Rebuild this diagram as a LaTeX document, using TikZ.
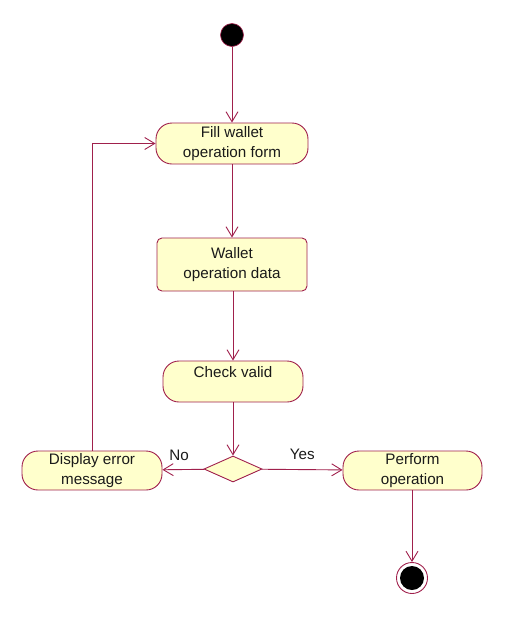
\documentclass[tikz,border=0pt]{standalone}
\usepackage{fontspec}
\setmainfont{Liberation Sans}
\usetikzlibrary{arrows.meta,shapes.geometric}
\definecolor{umlline}{HTML}{A0204C}
\definecolor{umlfill}{HTML}{FFFFCC}
\definecolor{umltext}{HTML}{1A1A1A}
\begin{document}
\begin{tikzpicture}[x=1pt,y=-1pt,
  activity/.style={draw=umlline, fill=umlfill, line width=0.9pt, rounded corners=16pt,
    align=center, inner sep=0pt, text=umltext, font=\fontsize{15.2}{20.5}\selectfont},
  dataobj/.style={draw=umlline, fill=umlfill, line width=0.9pt, rounded corners=5pt,
    align=center, inner sep=0pt, text=umltext, font=\fontsize{15.2}{20.5}\selectfont},
  flow/.style={draw=umlline, line width=0.9pt, -{Straight Barb[length=10pt,width=12pt,line width=0.9pt]}},
  lbl/.style={text=umltext, font=\fontsize{15.2}{18}\selectfont, inner sep=0pt}]
\useasboundingbox (0,0) rectangle (512,625);
\node[circle, fill=black, draw=umlline, line width=0.6pt, minimum size=23pt, inner sep=0pt] (start) at (232,35) {};
\node[activity, minimum width=152pt, minimum height=41pt] (fill) at (232,143.5) {Fill wallet\\operation form};
\node[dataobj, minimum width=150pt, minimum height=53pt] (data) at (232,264.5) {Wallet\\operation data};
\node[activity, minimum width=140pt, minimum height=41pt] (check) at (233,381.5) {\raisebox{4pt}[0pt][0pt]{Check valid}};
\node[diamond, draw=umlline, fill=umlfill, line width=0.9pt, minimum width=58pt, minimum height=26pt, inner sep=0pt] (dec) at (233,469) {};
\node[activity, minimum width=140pt, minimum height=39pt] (disp) at (92,470.5) {Display error\\message};
\node[activity, minimum width=139pt, minimum height=39pt] (perf) at (412.5,470.5) {Perform\\operation};
\node[circle, draw=umlline, fill=white, line width=0.9pt, minimum size=31pt, inner sep=0pt] (end) at (412,578) {};
\node[circle, fill=black, minimum size=24pt, inner sep=0pt] (endin) at (end.center) {};
\coordinate (loopb) at (92,143.5);
\draw[flow] (start) -- (fill);
\draw[flow] (fill) -- (data);
\draw[flow] (data.south -| check.north) -- (check);
\draw[flow] (check) -- (dec);
\draw[flow] (dec) -- node[lbl, above=8pt, pos=0.6] (no) {No} (disp);
\draw[flow] (dec) -- node[lbl, above=9pt, pos=0.5] (yes) {Yes} (perf);
\draw[flow] (perf.south -| end.north) -- (end);
\draw[flow] (disp.north) -- (loopb) -- (fill.west);
\end{tikzpicture}
\end{document}
